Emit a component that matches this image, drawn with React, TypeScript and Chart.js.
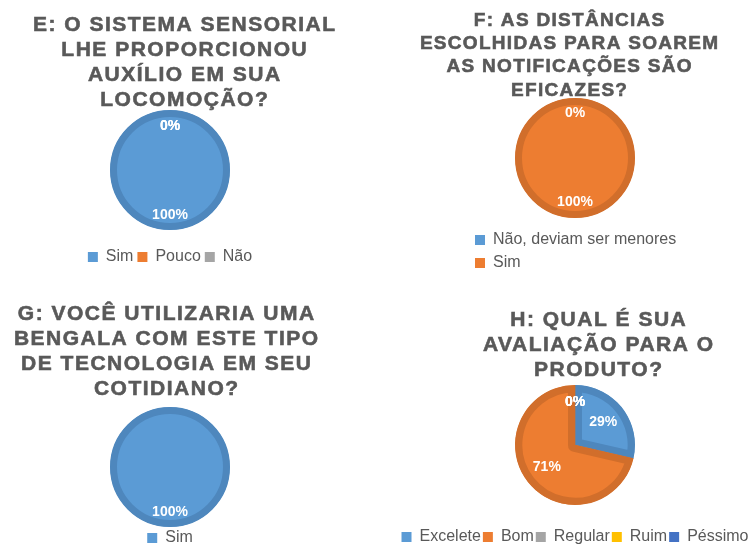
import React, { useEffect, useRef } from "react";
import { Chart, registerables } from "chart.js";

Chart.register(...registerables);

const FONT = '"Liberation Sans", Arial, sans-serif';
const TEXT_GRAY = "#595959";

const BLUE = "#5B9BD5";
const BLUE_EDGE = "#4E87BD";
const ORANGE = "#ED7D31";
const ORANGE_EDGE = "#D16E2B";
const GRAY = "#A5A5A5";
const GRAY_EDGE = "#8F8F8F";
const YELLOW = "#FFC000";
const YELLOW_EDGE = "#DCA600";
const DKBLUE = "#4472C4";
const DKBLUE_EDGE = "#3B63AA";

// ---- Chart E ----
const eTitle = ["E: O SISTEMA SENSORIAL", "LHE PROPORCIONOU", "AUXÍLIO EM SUA", "LOCOMOÇÃO?"];
const eCategories = ["Sim", "Pouco", "Não"];
const eValues = [100, 0, 0];

// ---- Chart F ----
const fTitle = ["F: AS DISTÂNCIAS", "ESCOLHIDAS PARA SOAREM", "AS NOTIFICAÇÕES SÃO", "EFICAZES?"];
const fCategories = ["Não, deviam ser menores", "Sim"];
const fValues = [0, 100];

// ---- Chart G ----
const gTitle = ["G: VOCÊ UTILIZARIA UMA", "BENGALA COM ESTE TIPO", "DE TECNOLOGIA EM SEU", "COTIDIANO?"];
const gCategories = ["Sim"];
const gValues = [100];

// ---- Chart H ----
const hTitle = ["H: QUAL É SUA", "AVALIAÇÃO PARA O", "PRODUTO?"];
const hCategories = ["Excelete", "Bom", "Regular", "Ruim", "Péssimo"];
const hValues = [28.6, 71.4, 0, 0, 0];

const EDGE_W = 7;

type Spec = {
  rect: { left: number; top: number; width: number; height: number };
  title: string[];
  titleX: number;
  titleY: number;
  titleGap: number;
  titleSize: number;
  titleSpacing: number;
  categories: string[];
  values: number[];
  colors: string[];
  edges: string[];
  padding: { top: number; left: number; right: number; bottom: number };
  legendAlign: "start" | "center";
  legendPad: number;
  labelR: number;
  zeroR: number;
};

function makeConfig(s: Spec): any {
  const baseGen = (Chart as any).overrides.doughnut.plugins.legend.labels.generateLabels;
  const total = s.values.reduce((a, b) => a + b, 0);

  const titlePlugin = {
    id: "blockTitle",
    afterDraw(chart: any) {
      const ctx = chart.ctx as CanvasRenderingContext2D;
      ctx.save();
      ctx.font = `bold ${s.titleSize}px ${FONT}`;
      ctx.fillStyle = TEXT_GRAY;
      ctx.strokeStyle = TEXT_GRAY;
      ctx.lineWidth = 0.6;
      ctx.textAlign = "center";
      ctx.textBaseline = "middle";
      (ctx as any).letterSpacing = `${s.titleSpacing}px`;
      s.title.forEach((line, i) => {
        const x = s.titleX + s.titleSpacing / 2;
        const y = s.titleY + i * s.titleGap;
        ctx.fillText(line, x, y);
        ctx.strokeText(line, x, y);
      });
      ctx.restore();
    },
  };

  // whole-circle slices: draw the darker inner edge as a ring (no radial seam)
  const ringPlugin = {
    id: "fullRing",
    afterDatasetsDraw(chart: any) {
      const ctx = chart.ctx as CanvasRenderingContext2D;
      const meta = chart.getDatasetMeta(0);
      const data = chart.data.datasets[0].data as number[];
      ctx.save();
      meta.data.forEach((arc: any, i: number) => {
        if (data[i] !== total) return;
        const p = arc.getProps(["x", "y", "outerRadius"], true);
        ctx.beginPath();
        ctx.arc(p.x, p.y, p.outerRadius - EDGE_W / 2, 0, Math.PI * 2);
        ctx.lineWidth = EDGE_W;
        ctx.strokeStyle = s.edges[i];
        ctx.stroke();
      });
      ctx.restore();
    },
  };

  const labelPlugin = {
    id: "pctLabels",
    afterDatasetsDraw(chart: any) {
      const ctx = chart.ctx as CanvasRenderingContext2D;
      const meta = chart.getDatasetMeta(0);
      const data = chart.data.datasets[0].data as number[];
      const sum = data.reduce((a, b) => a + b, 0);
      ctx.save();
      ctx.font = `bold 14px ${FONT}`;
      ctx.fillStyle = "#FFFFFF";
      ctx.textAlign = "center";
      ctx.textBaseline = "middle";
      meta.data.forEach((arc: any, i: number) => {
        const p = arc.getProps(["x", "y", "startAngle", "endAngle"], true);
        const mid = (p.startAngle + p.endAngle) / 2;
        const r = data[i] === 0 ? s.zeroR : s.labelR;
        const txt = `${Math.round((data[i] / sum) * 100)}%`;
        ctx.fillText(txt, p.x + Math.cos(mid) * r, p.y + Math.sin(mid) * r);
      });
      ctx.restore();
    },
  };

  return {
    type: "pie",
    data: {
      labels: s.categories,
      datasets: [
        {
          data: s.values,
          backgroundColor: s.colors,
          borderColor: s.edges,
          borderWidth: (c: any) => (c.raw === total ? 0 : EDGE_W),
          borderAlign: "inner",
          radius: 60,
          clip: false,
        },
      ],
    },
    options: {
      animation: false,
      responsive: false,
      maintainAspectRatio: false,
      layout: { padding: s.padding },
      plugins: {
        title: { display: false },
        tooltip: { enabled: false },
        legend: {
          display: true,
          position: "bottom",
          align: s.legendAlign,
          onClick: () => {},
          labels: {
            boxWidth: 10,
            boxHeight: 10,
            padding: s.legendPad,
            color: TEXT_GRAY,
            font: { size: 16, family: FONT },
            generateLabels: (chart: any) =>
              baseGen(chart).map((l: any) => ({ ...l, lineWidth: 0, strokeStyle: "rgba(0,0,0,0)" })),
          },
        },
      },
    },
    plugins: [titlePlugin, ringPlugin, labelPlugin],
  };
}

const specs: Spec[] = [
  {
    rect: { left: 0, top: 0, width: 375, height: 275 },
    title: eTitle,
    titleX: 184,
    titleY: 25.5,
    titleGap: 25,
    titleSize: 21,
    titleSpacing: 1.5,
    categories: eCategories,
    values: eValues,
    colors: [BLUE, ORANGE, GRAY],
    edges: [BLUE_EDGE, ORANGE_EDGE, GRAY_EDGE],
    padding: { top: 95, left: 0, right: 35, bottom: 0 },
    legendAlign: "center",
    legendPad: 4,
    labelR: 45,
    zeroR: 44,
  },
  {
    rect: { left: 375, top: 0, width: 376, height: 281 },
    title: fTitle,
    titleX: 194,
    titleY: 20.5,
    titleGap: 23.3,
    titleSize: 19,
    titleSpacing: 1.3,
    categories: fCategories,
    values: fValues,
    colors: [BLUE, ORANGE],
    edges: [BLUE_EDGE, ORANGE_EDGE],
    padding: { top: 91, left: 93, right: 69, bottom: 0 },
    legendAlign: "start",
    legendPad: 7,
    labelR: 44,
    zeroR: 45,
  },
  {
    rect: { left: 0, top: 273, width: 375, height: 283 },
    title: gTitle,
    titleX: 166,
    titleY: 41,
    titleGap: 25,
    titleSize: 21,
    titleSpacing: 1.5,
    categories: gCategories,
    values: gValues,
    colors: [BLUE],
    edges: [BLUE_EDGE],
    padding: { top: 135, left: 0, right: 35, bottom: 0 },
    legendAlign: "center",
    legendPad: 4,
    labelR: 45,
    zeroR: 45,
  },
  {
    rect: { left: 351, top: 273, width: 448, height: 282 },
    title: hTitle,
    titleX: 247,
    titleY: 47,
    titleGap: 25,
    titleSize: 21,
    titleSpacing: 1.5,
    categories: hCategories,
    values: hValues,
    colors: [BLUE, ORANGE, GRAY, YELLOW, DKBLUE],
    edges: [BLUE_EDGE, ORANGE_EDGE, GRAY_EDGE, YELLOW_EDGE, DKBLUE_EDGE],
    padding: { top: 90, left: 0, right: 0, bottom: 0 },
    legendAlign: "center",
    legendPad: 2,
    labelR: 36,
    zeroR: 43,
  },
];

function PieBox({ spec }: { spec: Spec }) {
  const ref = useRef<HTMLCanvasElement | null>(null);
  useEffect(() => {
    if (!ref.current) return;
    const chart = new Chart(ref.current, makeConfig(spec));
    return () => chart.destroy();
  }, [spec]);
  const { left, top, width, height } = spec.rect;
  return (
    <canvas
      ref={ref}
      width={width}
      height={height}
      style={{ position: "absolute", left, top, width, height, display: "block" }}
    />
  );
}

export default function App() {
  return (
    <div
      style={{
        position: "fixed",
        left: 0,
        top: 0,
        width: 751,
        height: 547,
        overflow: "hidden",
        background: "#FFFFFF",
      }}
    >
      {specs.map((s, i) => (
        <PieBox key={i} spec={s} />
      ))}
    </div>
  );
}
